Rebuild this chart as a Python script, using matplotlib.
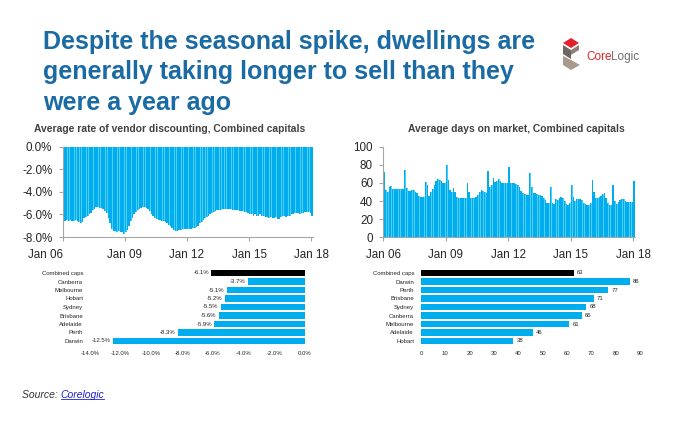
import numpy as np
import matplotlib
matplotlib.use("Agg")
import matplotlib.pyplot as plt
from matplotlib.patches import Polygon
from matplotlib.lines import Line2D
from matplotlib import font_manager

# ---------------- data ----------------
# Average rate of vendor discounting, combined capitals (monthly, %)
disc_2006 = [-6.5, -6.6, -6.5, -6.6, -6.5, -6.6, -6.6, -6.5, -6.6, -6.7, -6.8, -6.7]
disc_2007 = [-6.3, -6.2, -6.1, -6.0, -5.9, -5.6, -5.5, -5.3, -5.3, -5.4, -5.4, -5.5]
disc_2008 = [-5.7, -5.9, -6.3, -6.8, -7.3, -7.5, -7.5, -7.6, -7.5, -7.6, -7.6, -7.7]
disc_2009 = [-7.6, -7.4, -7.0, -6.6, -6.3, -6.0, -5.8, -5.6, -5.5, -5.4, -5.3, -5.3]
disc_2010 = [-5.4, -5.5, -5.7, -6.0, -6.1, -6.3, -6.4, -6.5, -6.5, -6.6, -6.6, -6.7]
disc_2011 = [-6.8, -6.9, -7.0, -7.2, -7.4, -7.5, -7.5, -7.4, -7.4, -7.3, -7.3, -7.3]
disc_2012 = [-7.3, -7.3, -7.3, -7.2, -7.2, -7.1, -7.0, -6.8, -6.7, -6.5, -6.3, -6.2]
disc_2013 = [-6.1, -6.0, -5.9, -5.8, -5.7, -5.6, -5.6, -5.6, -5.5, -5.5, -5.5, -5.5]
disc_2014 = [-5.5, -5.5, -5.6, -5.6, -5.6, -5.6, -5.7, -5.7, -5.7, -5.8, -5.8, -5.9]
disc_2015 = [-6.0, -6.0, -6.1, -6.0, -6.1, -6.1, -6.0, -6.1, -6.1, -6.2, -6.2, -6.3]
disc_2016 = [-6.2, -6.3, -6.3, -6.2, -6.4, -6.4, -6.2, -6.1, -6.1, -6.2, -6.1, -6.1]
disc_2017 = [-6.0, -6.0, -5.9, -5.9, -5.9, -6.0, -5.9, -5.9, -5.8, -5.8, -5.8, -5.9]
disc_2018 = [-6.1]

# Average days on market, combined capitals (monthly)
dom_2006 = [72, 52, 50, 56, 57, 53, 53, 53, 53, 53, 53, 53]
dom_2007 = [74, 54, 51, 51, 52, 52, 50, 49, 46, 45, 45, 45]
dom_2008 = [61, 58, 46, 50, 53, 58, 62, 64, 63, 62, 60, 60]
dom_2009 = [80, 63, 52, 50, 54, 50, 45, 43, 43, 43, 43, 43]
dom_2010 = [60, 50, 43, 43, 43, 45, 47, 50, 52, 51, 50, 49]
dom_2011 = [73, 55, 58, 66, 61, 62, 64, 62, 60, 60, 60, 60]
dom_2012 = [78, 60, 60, 60, 59, 58, 56, 51, 49, 48, 47, 47]
dom_2013 = [71, 55, 49, 49, 48, 47, 47, 46, 43, 41, 38, 38]
dom_2014 = [56, 38, 37, 42, 41, 43, 44, 43, 40, 37, 36, 38]
dom_2015 = [58, 45, 40, 42, 42, 42, 41, 38, 37, 36, 36, 38]
dom_2016 = [63, 50, 43, 43, 44, 46, 48, 49, 43, 38, 36, 36]
dom_2017 = [58, 40, 37, 39, 41, 42, 42, 40, 39, 39, 39, 39]
dom_2018 = [62]

year_ticks = [2006, 2009, 2012, 2015, 2018]
year_labels = ["Jan 06", "Jan 09", "Jan 12", "Jan 15", "Jan 18"]

disc_cities = ["Combined caps", "Canberra", "Melbourne", "Hobart", "Sydney",
               "Brisbane", "Adelaide", "Perth", "Darwin"]
disc_values = [-6.1, -3.7, -5.1, -5.2, -5.5, -5.6, -5.9, -8.3, -12.5]

dom_cities = ["Combined caps", "Darwin", "Perth", "Brisbane", "Sydney",
              "Canberra", "Melbourne", "Adelaide", "Hobart"]
dom_values = [63, 86, 77, 71, 68, 66, 61, 46, 38]

title_text = ("Despite the seasonal spike, dwellings are\n"
              "generally taking longer to sell than they\n"
              "were a year ago")

# ---------------- style ----------------
available = {f.name for f in font_manager.fontManager.ttflist}
plt.rcParams["font.family"] = ["Liberation Sans", "DejaVu Sans"]
narrow = "Liberation Sans Narrow" if "Liberation Sans Narrow" in available else "Liberation Sans"

BLUE = "#00AEEF"
STRIPE = "#4FCFF5"
BLACK = "#000000"
GRAY = "#A6A6A6"
TXT = "#262626"

W, H = 680, 425
fig = plt.figure(figsize=(6.8, 4.25), dpi=100)


def fx(x):
    return x / W


def fy(y):
    return 1 - y / H


def disc_series():
    return (disc_2006 + disc_2007 + disc_2008 + disc_2009 + disc_2010 + disc_2011 +
            disc_2012 + disc_2013 + disc_2014 + disc_2015 + disc_2016 + disc_2017 + disc_2018)


def dom_series():
    return (dom_2006 + dom_2007 + dom_2008 + dom_2009 + dom_2010 + dom_2011 +
            dom_2012 + dom_2013 + dom_2014 + dom_2015 + dom_2016 + dom_2017 + dom_2018)


disc = np.array(disc_series())
dom = np.array(dom_series())
months = 2006 + np.arange(len(disc)) / 12.0
mw = 1.0 / 12
bw = 0.72 / 12

# ---------------- title ----------------
fig.text(fx(43), fy(30), title_text, ha="left", va="top", fontsize=18,
         fontweight="bold", color="#1A6AA3", family=[narrow, "DejaVu Sans"],
         linespacing=1.34)

# ---------------- logo ----------------
def poly(pts, color):
    p = Polygon([(fx(a), fy(b)) for a, b in pts], closed=True,
                transform=fig.transFigure, facecolor=color, edgecolor="none")
    fig.patches.append(p)

poly([(563, 43), (571, 38), (579, 43), (571, 48)], "#E4202A")
poly([(563, 45), (571, 50), (571, 59), (563, 54)], "#6E6560")
poly([(571, 50), (579, 45), (579, 50), (571, 55)], "#8C8279")
poly([(563, 56), (571, 60), (580, 65), (571, 70), (563, 65)], "#A89B8E")
t_core = fig.text(fx(586), fy(57), "Core", ha="left", va="center", fontsize=8.5,
                  color="#E4202A")
fig.canvas.draw()
r = fig.canvas.get_renderer()
bb = t_core.get_window_extent(r)
fig.text(bb.x1 / W, fy(57), "Logic", ha="left", va="center", fontsize=8.5,
         color="#6D6E71")

# ---------------- time series: vendor discounting ----------------
ax1 = fig.add_axes([fx(62.7), fy(237), fx(313) - fx(62.7), (237 - 146.7) / H])
ax1.bar(months, disc, width=mw, align="edge", color=STRIPE, linewidth=0)
ax1.bar(months, disc, width=bw, align="edge", color=BLUE, linewidth=0)
ax1.set_ylim(-8, 0)
ax1.set_xlim(2006, 2018 + mw)
ax1.set_yticks([0, -2, -4, -6, -8])
ax1.set_yticklabels(["0.0%", "-2.0%", "-4.0%", "-6.0%", "-8.0%"])
ax1.set_xticks(year_ticks)
ax1.set_xticklabels(year_labels)
ax1.get_xticklabels()[0].set_ha("right")

# ---------------- time series: days on market ----------------
ax2 = fig.add_axes([fx(383.3), fy(237.3), fx(635) - fx(383.3), (237.3 - 146.7) / H])
ax2.bar(months, dom, width=mw, align="edge", color=STRIPE, linewidth=0)
ax2.bar(months, dom, width=bw, align="edge", color=BLUE, linewidth=0)
ax2.set_ylim(0, 100)
ax2.set_xlim(2006, 2018 + mw)
ax2.set_yticks([0, 20, 40, 60, 80, 100])
ax2.set_xticks(year_ticks)
ax2.set_xticklabels(year_labels)

for ax in (ax1, ax2):
    for s in ("top", "right"):
        ax.spines[s].set_visible(False)
    for s in ("left", "bottom"):
        ax.spines[s].set_color(GRAY)
        ax.spines[s].set_linewidth(0.8)
    ax.tick_params(axis="both", length=3, width=0.8, color=GRAY,
                   labelsize=8.4, labelcolor=TXT)
    ax.tick_params(axis="y", pad=4.5)
    ax.tick_params(axis="x", pad=5.5)
    ax.set_facecolor("white")

fig.text(fx(170), fy(129), "Average rate of vendor discounting, Combined capitals",
         ha="center", va="center", fontsize=7.4, fontweight="bold", color="#404040")
fig.text(fx(516), fy(129), "Average days on market, Combined capitals",
         ha="center", va="center", fontsize=7.4, fontweight="bold", color="#404040")

# ---------------- bottom bars: discounting by city ----------------
SMALL = 4.3
colors = [BLACK] + [BLUE] * (len(disc_cities) - 1)
ax3 = fig.add_axes([fx(90), fy(345.25), fx(305) - fx(90), 76.5 / H])
ax3.barh(np.arange(len(disc_cities)), disc_values, height=0.78, color=colors, linewidth=0)
ax3.set_ylim(len(disc_cities) - 0.5, -0.5)
ax3.set_xlim(-14, 0)
ax3.set_xticks(np.arange(-14, 1, 2))
ax3.set_xticklabels([f"{v:.1f}%" for v in np.arange(-14, 1, 2)])
ax3.set_yticks(np.arange(len(disc_cities)))
ax3.set_yticklabels(disc_cities)
for i, v in enumerate(disc_values):
    ax3.text(v - 0.15, i, f"{v:.1f}%", ha="right", va="center", fontsize=SMALL, color=TXT)

# ---------------- bottom bars: days on market by city ----------------
ax4 = fig.add_axes([fx(421), fy(345.25), fx(640) - fx(421), 76.5 / H])
ax4.barh(np.arange(len(dom_cities)), dom_values, height=0.78, color=colors, linewidth=0)
ax4.set_ylim(len(dom_cities) - 0.5, -0.5)
ax4.set_xlim(0, 90)
ax4.set_xticks(np.arange(0, 91, 10))
ax4.set_yticks(np.arange(len(dom_cities)))
ax4.set_yticklabels(dom_cities)
for i, v in enumerate(dom_values):
    ax4.text(v + 1.2, i, f"{v}", ha="left", va="center", fontsize=SMALL, color=TXT)

for ax in (ax3, ax4):
    for s in ax.spines.values():
        s.set_visible(False)
    ax.tick_params(axis="both", length=0, labelsize=SMALL, labelcolor=TXT)
    ax.tick_params(axis="y", pad=5)
    ax.tick_params(axis="x", pad=4)

# ---------------- source ----------------
t_src = fig.text(fx(22), fy(395), "Source: ", ha="left", va="center", fontsize=7.5,
                 style="italic", color="#333333")
fig.canvas.draw()
r = fig.canvas.get_renderer()
bb = t_src.get_window_extent(r)
t_link = fig.text(bb.x1 / W, fy(395), "Corelogic", ha="left", va="center", fontsize=7.5,
                  style="italic", color="#1F1FD8")
fig.canvas.draw()
bb2 = t_link.get_window_extent(fig.canvas.get_renderer())
fig.lines.append(Line2D([bb2.x0 / W, bb2.x1 / W], [(bb2.y0 + 1) / H, (bb2.y0 + 1) / H],
                        transform=fig.transFigure, color="#1F1FD8", linewidth=0.6))

fig.savefig("out.png", dpi=100, facecolor="white")
